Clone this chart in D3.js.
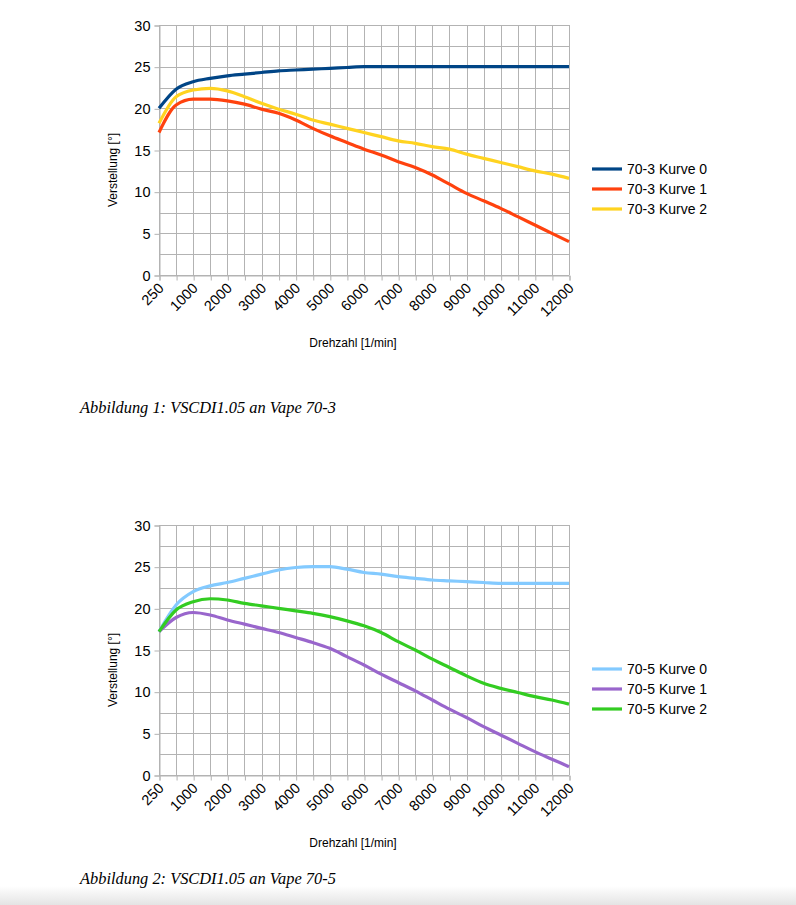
<!DOCTYPE html>
<html>
<head>
<meta charset="utf-8">
<script src="https://cdn.jsdelivr.net/npm/d3@7"></script>
<style>
  html, body { margin: 0; padding: 0; background: #fff; }
  svg { display: block; }
</style>
</head>
<body>
<svg id="chart" width="796" height="905"></svg>
<script>
// ---- data ----
const categories = [250, 500, 1000, 1500, 2000, 2500, 3000, 3500, 4000, 4500, 5000, 5500, 6000,
                    6500, 7000, 7500, 8000, 8500, 9000, 9500, 10000, 10500, 11000, 11500, 12000];
const labeledCategories = [250, 1000, 2000, 3000, 4000, 5000, 6000, 7000, 8000, 9000, 10000, 11000, 12000];
const yTicks = [0, 5, 10, 15, 20, 25, 30];
const yGrid = [0, 2.5, 5, 7.5, 10, 12.5, 15, 17.5, 20, 22.5, 25, 27.5, 30];

const names1 = ["70-3 Kurve 0", "70-3 Kurve 1", "70-3 Kurve 2"];
const colors1 = ["#004586", "#ff420e", "#ffd320"];
const k70_3_0 = [20.0, 22.3, 23.2, 23.6, 23.9, 24.1, 24.3, 24.5, 24.6, 24.7, 24.8, 24.9, 25.0,
                 25.0, 25.0, 25.0, 25.0, 25.0, 25.0, 25.0, 25.0, 25.0, 25.0, 25.0, 25.0];
const k70_3_1 = [17.1, 20.4, 21.1, 21.1, 20.9, 20.5, 19.9, 19.4, 18.6, 17.6, 16.7, 15.9, 15.1,
                 14.4, 13.6, 12.9, 12.0, 10.9, 9.8, 8.9, 8.0, 7.0, 6.0, 5.0, 4.0];
const k70_3_2 = [18.2, 21.4, 22.2, 22.4, 22.1, 21.4, 20.6, 19.9, 19.3, 18.6, 18.1, 17.6, 17.1,
                 16.6, 16.1, 15.8, 15.4, 15.1, 14.5, 14.0, 13.5, 13.0, 12.5, 12.1, 11.6];

const names2 = ["70-5 Kurve 0", "70-5 Kurve 1", "70-5 Kurve 2"];
const colors2 = ["#83caff", "#9966cc", "#33cc22"];
const k70_5_0 = [17.2, 20.4, 22.0, 22.7, 23.1, 23.6, 24.1, 24.6, 24.9, 25.0, 25.0, 24.7, 24.3,
                 24.1, 23.8, 23.6, 23.4, 23.3, 23.2, 23.1, 23.0, 23.0, 23.0, 23.0, 23.0];
const k70_5_1 = [17.2, 18.9, 19.5, 19.2, 18.6, 18.1, 17.6, 17.1, 16.5, 15.9, 15.2, 14.2, 13.2,
                 12.1, 11.1, 10.1, 9.0, 7.9, 6.9, 5.8, 4.8, 3.8, 2.8, 1.9, 1.0];
const k70_5_2 = [17.2, 19.8, 20.8, 21.15, 21.0, 20.6, 20.3, 20.0, 19.7, 19.4, 19.0, 18.5, 17.9,
                 17.1, 16.0, 15.0, 13.9, 12.9, 11.9, 11.0, 10.4, 9.9, 9.4, 9.0, 8.5];

const xTitle = "Drehzahl [1/min]";
const yTitle = "Verstellung [°]";
const caption1 = "Abbildung 1: VSCDI1.05 an Vape 70-3";
const caption2 = "Abbildung 2: VSCDI1.05 an Vape 70-5";

// ---- drawing ----
const svg = d3.select("#chart");
const FONT = "'Liberation Sans', Arial, sans-serif";
const GRID = "#b3b3b3";

// page bottom shadow
const defs = svg.append("defs");
const grad = defs.append("linearGradient").attr("id", "shade").attr("x1", 0).attr("x2", 0).attr("y1", 0).attr("y2", 1);
grad.append("stop").attr("offset", "0%").attr("stop-color", "#ffffff");
grad.append("stop").attr("offset", "100%").attr("stop-color", "#e4e4e4");
svg.append("rect").attr("x", 0).attr("y", 886).attr("width", 796).attr("height", 19).attr("fill", "url(#shade)");

function drawChart(top, seriesValues, names, colors, caption, captionY) {
  const left = 159, right = 569, plotTop = top, plotBottom = top + 250;
  const g = svg.append("g");
  const x = d3.scalePoint().domain(categories).range([left, right]);
  const y = d3.scaleLinear().domain([0, 30]).range([plotBottom, plotTop]);

  // grid
  g.append("g").selectAll("line").data(yGrid).join("line")
    .attr("x1", left).attr("x2", right)
    .attr("y1", d => Math.round(y(d)) + 0.5).attr("y2", d => Math.round(y(d)) + 0.5)
    .attr("stroke", GRID).attr("stroke-width", 1);
  g.append("g").selectAll("line").data(categories).join("line")
    .attr("x1", d => Math.round(x(d)) + 0.5).attr("x2", d => Math.round(x(d)) + 0.5)
    .attr("y1", plotTop).attr("y2", plotBottom)
    .attr("stroke", GRID).attr("stroke-width", 1);

  // y axis
  const yAxis = d3.axisLeft(y).tickValues(yTicks).tickSize(5).tickPadding(4).tickFormat(d3.format("d"));
  const ya = g.append("g").attr("transform", `translate(${left + 0.5},0.5)`).call(yAxis);
  ya.select(".domain").attr("stroke", GRID);
  ya.selectAll(".tick line").attr("stroke", GRID);
  ya.selectAll(".tick text").attr("font-family", FONT).attr("font-size", 14.5).attr("fill", "#000");

  // x axis
  const xAxis = d3.axisBottom(x).tickSize(5).tickPadding(3)
    .tickFormat(d => labeledCategories.includes(d) ? String(d) : "");
  const xa = g.append("g").attr("transform", `translate(0.5,${plotBottom + 0.5})`).call(xAxis);
  xa.select(".domain").attr("stroke", GRID);
  xa.selectAll(".tick line").attr("stroke", GRID);
  xa.selectAll(".tick text")
    .attr("font-family", FONT).attr("font-size", 14.5).attr("fill", "#000")
    .attr("text-anchor", "end")
    .attr("dy", "0.35em")
    .attr("transform", "translate(1,10) rotate(-45)")
    .attr("x", 0).attr("y", 0);

  // axis titles
  g.append("text").attr("x", 353).attr("y", plotBottom + 72)
    .attr("text-anchor", "middle").attr("font-family", FONT).attr("font-size", 12).attr("fill", "#000")
    .text(xTitle);
  g.append("text").attr("transform", `translate(117,${plotTop + 145}) rotate(-90)`)
    .attr("text-anchor", "middle").attr("font-family", FONT).attr("font-size", 12).attr("fill", "#000")
    .text(yTitle);

  // series lines
  const line = d3.line().x((d, i) => x(categories[i])).y(d => y(d)).curve(d3.curveMonotoneX);
  seriesValues.forEach((vals, k) => {
    g.append("path").datum(vals).attr("d", line)
      .attr("fill", "none").attr("stroke", colors[k]).attr("stroke-width", 3.2)
      .attr("stroke-linejoin", "round").attr("stroke-linecap", "butt");
  });

  // legend
  const lg = g.append("g");
  names.forEach((n, k) => {
    const ly = plotTop + 144 + k * 20;
    lg.append("line").attr("x1", 592).attr("x2", 622).attr("y1", ly).attr("y2", ly)
      .attr("stroke", colors[k]).attr("stroke-width", 3.2);
    lg.append("text").attr("x", 627).attr("y", ly).attr("dy", "0.36em")
      .attr("font-family", FONT).attr("font-size", 14).attr("fill", "#000").text(n);
  });

  // caption
  svg.append("text").attr("x", 80).attr("y", captionY)
    .attr("font-family", "'Liberation Serif', 'DejaVu Serif', serif").attr("font-style", "italic")
    .attr("font-size", 16.4).attr("fill", "#000").text(caption);
}

drawChart(25, [k70_3_0, k70_3_1, k70_3_2], names1, colors1, caption1, 413);
drawChart(525, [k70_5_0, k70_5_1, k70_5_2], names2, colors2, caption2, 884);
</script>
</body>
</html>
